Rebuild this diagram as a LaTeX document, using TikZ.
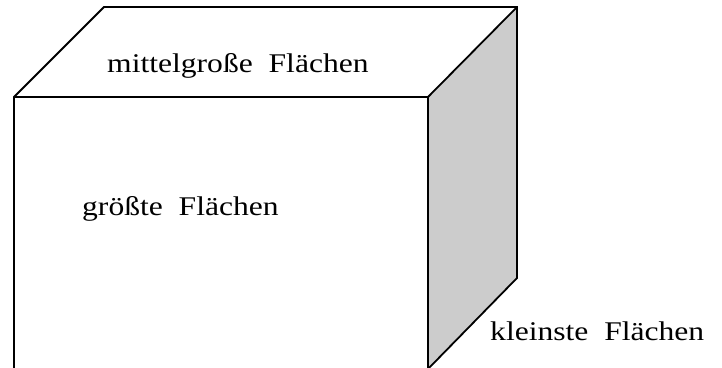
\documentclass[tikz,border=0pt]{standalone}
\usepackage{fontspec}
\setmainfont{Liberation Serif}
\begin{document}
\begin{tikzpicture}[x=1pt,y=-1pt,
  edge/.style={line width=1.8pt,line join=miter},
  lbl/.style={anchor=base west,inner sep=0pt,font=\fontsize{27}{30}\selectfont}]
\useasboundingbox (0,0) rectangle (722,367);
\clip (0,0) rectangle (722,367);
\coordinate (A) at (14,97);
\coordinate (B) at (104,7);
\coordinate (C) at (517,7);
\coordinate (D) at (428,97);
\coordinate (E) at (517,278);
\coordinate (F) at (428,369);
\coordinate (G) at (14,369);
\fill[gray!40] (D) -- (C) -- (E) -- (F) -- cycle;
\draw[edge] (G) -- (A) -- (B) -- (C) -- (E) -- (F) -- cycle;
\draw[edge] (A) -- (D) -- (C);
\draw[edge] (D) -- (F);
\node[lbl] (top) at (107,72) {\scalebox{1.17}[1]{mittelgroße\hspace{0.5em}Flächen}};
\node[lbl] (front) at (82,215) {\scalebox{1.17}[1]{größte\hspace{0.5em}Flächen}};
\node[lbl] (side) at (490,340) {\scalebox{1.17}[1]{kleinste\hspace{0.5em}Flächen}};
\end{tikzpicture}
\end{document}
